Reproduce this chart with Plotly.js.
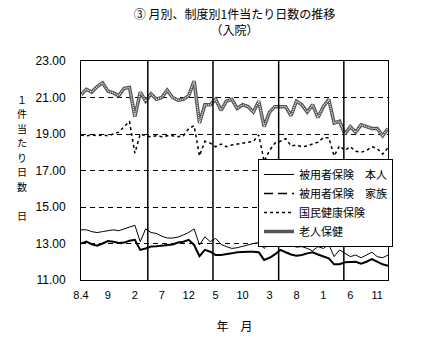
<!DOCTYPE html>
<html>
<head>
<meta charset="utf-8">
<script src="https://cdn.plot.ly/plotly-3.0.1.min.js"></script>
<style>html,body{margin:0;padding:0;background:#fff;}#chart{width:421px;height:353px;}</style>
</head>
<body>
<div id="chart"></div>
<script>
// Month categories: April Heisei 8 (8.4) to January Heisei 13
const monthLabels = [
  "8.4","8.5","8.6","8.7","8.8","8.9","8.10","8.11","8.12","9.1","9.2","9.3",
  "9.4","9.5","9.6","9.7","9.8","9.9","9.10","9.11","9.12","10.1","10.2","10.3",
  "10.4","10.5","10.6","10.7","10.8","10.9","10.10","10.11","10.12","11.1","11.2","11.3",
  "11.4","11.5","11.6","11.7","11.8","11.9","11.10","11.11","11.12","12.1","12.2","12.3",
  "12.4","12.5","12.6","12.7","12.8","12.9","12.10","12.11","12.12","13.1"
];
const tickCats = ["8.4","8.9","9.2","9.7","9.12","10.5","10.10","11.3","11.8","12.1","12.6","12.11"];
const tickText = ["8.4","9","2","7","12","5","10","3","8","1","6","11"];

// 被用者保険 本人
const honnin = [13.75,13.75,13.65,13.6,13.65,13.7,13.75,13.7,13.8,13.9,14.0,13.1,
  13.8,13.6,13.55,13.4,13.3,13.3,13.35,13.47,13.6,13.8,12.92,13.37,
  13.1,13.28,12.95,12.83,12.73,12.77,12.83,12.92,13.0,13.05,12.73,13.0,
  12.92,13.0,12.83,12.92,12.8,12.83,12.73,12.6,12.83,12.73,12.95,12.28,
  12.65,12.46,12.28,12.37,12.22,12.37,12.52,12.28,12.22,12.37];
// 被用者保険 家族
const kazoku = [13.0,13.1,12.95,12.88,13.0,13.13,13.1,13.03,13.05,13.15,13.2,12.65,
  12.73,12.83,12.85,12.88,12.88,12.95,13.05,13.1,13.2,12.92,12.3,12.65,
  12.55,12.37,12.37,12.4,12.46,12.52,12.55,12.55,12.55,12.52,12.1,12.22,
  12.4,12.65,12.52,12.4,12.33,12.37,12.46,12.52,12.4,12.3,12.19,11.86,
  11.86,11.97,11.97,12.0,11.9,12.0,12.15,12.0,11.86,11.78];
// 国民健康保険
const kokuho = [18.95,18.9,18.95,18.9,18.95,18.9,19.0,19.1,19.4,19.7,17.95,19.0,
  18.9,18.85,18.9,18.85,18.9,18.9,18.85,18.9,19.3,19.45,17.8,18.6,
  18.5,18.3,18.45,18.3,18.4,18.45,18.5,18.55,18.6,18.95,17.5,18.1,
  18.5,18.6,18.75,18.35,18.4,18.3,18.35,18.45,18.55,18.8,18.8,17.8,
  18.35,18.1,18.3,18.05,18.0,18.1,18.3,18.2,17.9,18.25];
// 老人保健
const roujin = [21.15,21.45,21.3,21.6,21.8,21.35,21.25,21.1,21.5,21.55,19.95,21.3,
  20.8,21.2,20.9,21.0,21.4,21.0,20.85,20.9,21.1,21.9,19.6,20.6,
  20.6,20.9,20.3,20.8,20.9,20.4,20.6,20.5,20.2,20.8,19.4,20.2,
  20.5,20.5,20.5,20.0,20.8,20.6,20.2,20.6,19.9,20.5,20.9,19.6,
  19.7,19.0,19.4,19.1,19.5,19.4,19.3,19.3,18.9,19.3];

// Year separator positions (category index)
const yearLines = [12.4, 24.5, 36.7, 48.8];
const yTicks = [11,13,15,17,19,21,23];
const yTitleChars = ['１','件','当','た','り','日','数','','日'];

const jp = "'Noto Sans CJK JP', sans-serif";
const num = "'Liberation Sans', Arial, sans-serif";

const traces = [
  {x: monthLabels, y: honnin, type:'scatter', mode:'lines', name:'被用者保険　本人',
   line:{color:'#000', width:1}},
  {x: monthLabels, y: kazoku, type:'scatter', mode:'lines', name:'被用者保険　家族',
   line:{color:'#000', width:2}, showlegend:false},
  {x: [null], y: [null], type:'scatter', mode:'lines', name:'被用者保険　家族',
   line:{color:'#000', width:1.5, dash:'9px,5px'}},
  {x: monthLabels, y: kokuho, type:'scatter', mode:'lines', name:'国民健康保険',
   line:{color:'#000', width:1.5, dash:'3px,3px'}},
  {x: monthLabels, y: roujin, type:'scatter', mode:'lines', name:'老人保健',
   line:{color:'#555', width:3.5}},
  {x: monthLabels, y: roujin, type:'scatter', mode:'lines', name:'老人保健', showlegend:false,
   line:{color:'#fff', width:1.2, dash:'1px,1px'}}
];

const shapes = yearLines.map(v => ({type:'line', xref:'x', yref:'paper', x0:v, x1:v, y0:0, y1:1,
  line:{color:'#000', width:1.5}}));

// vertical y-axis title: one character per annotation, stacked
const plotBottom = 280, plotH = 219, step = 14.5, centerY = 157;
const firstY = centerY - step * (yTitleChars.length - 1) / 2;
const yTitleAnn = yTitleChars.map((c, k) => ({
  text: c, xref:'paper', yref:'paper', x:(22-81)/307, y:(plotBottom-(firstY+step*k))/plotH,
  xanchor:'center', yanchor:'middle', showarrow:false, borderpad:0,
  font:{family:jp, size:10, color:'#000'}
})).filter(a => a.text !== '');

const layout = {
  width:421, height:353,
  margin:{l:81, r:33, t:61, b:73},
  paper_bgcolor:'#fff', plot_bgcolor:'#fff',
  showlegend:true,
  title:{text:'③ 月別、制度別1件当たり日数の推移<br>（入院）', font:{family:jp, size:12, color:'#000'},
    x:0.5, xref:'paper', y:0.945, yref:'container', yanchor:'top'},
  xaxis:{type:'category', range:[0, monthLabels.length-1], tickmode:'array',
    tickvals:tickCats, ticktext:tickText, showgrid:false, zeroline:false,
    showline:true, mirror:true, linecolor:'#000', linewidth:1, ticks:'',
    ticklabelstandoff:5, tickfont:{family:num, size:11, color:'#000'},
    title:{text:'年　月', font:{family:jp, size:12, color:'#000'}, standoff:22}},
  yaxis:{range:[11,23], tickmode:'array', tickvals:yTicks,
    ticktext:yTicks.map(v=>v.toFixed(2)), showgrid:true, gridcolor:'#000', gridwidth:1,
    griddash:'5px,4px', zeroline:false, showline:true, mirror:true, linecolor:'#000', linewidth:1,
    ticks:'', ticklabelstandoff:12, tickfont:{family:num, size:12, color:'#000'}},
  legend:{x:(258-81)/307, y:(280-159)/219, xanchor:'left', yanchor:'top', bgcolor:'#fff', bordercolor:'#000',
    borderwidth:1, font:{family:jp, size:11, color:'#000'}, tracegroupgap:0},
  shapes: shapes,
  annotations: yTitleAnn
};

Plotly.newPlot('chart', traces, layout, {displayModeBar:false, staticPlot:true});
</script>
</body>
</html>
